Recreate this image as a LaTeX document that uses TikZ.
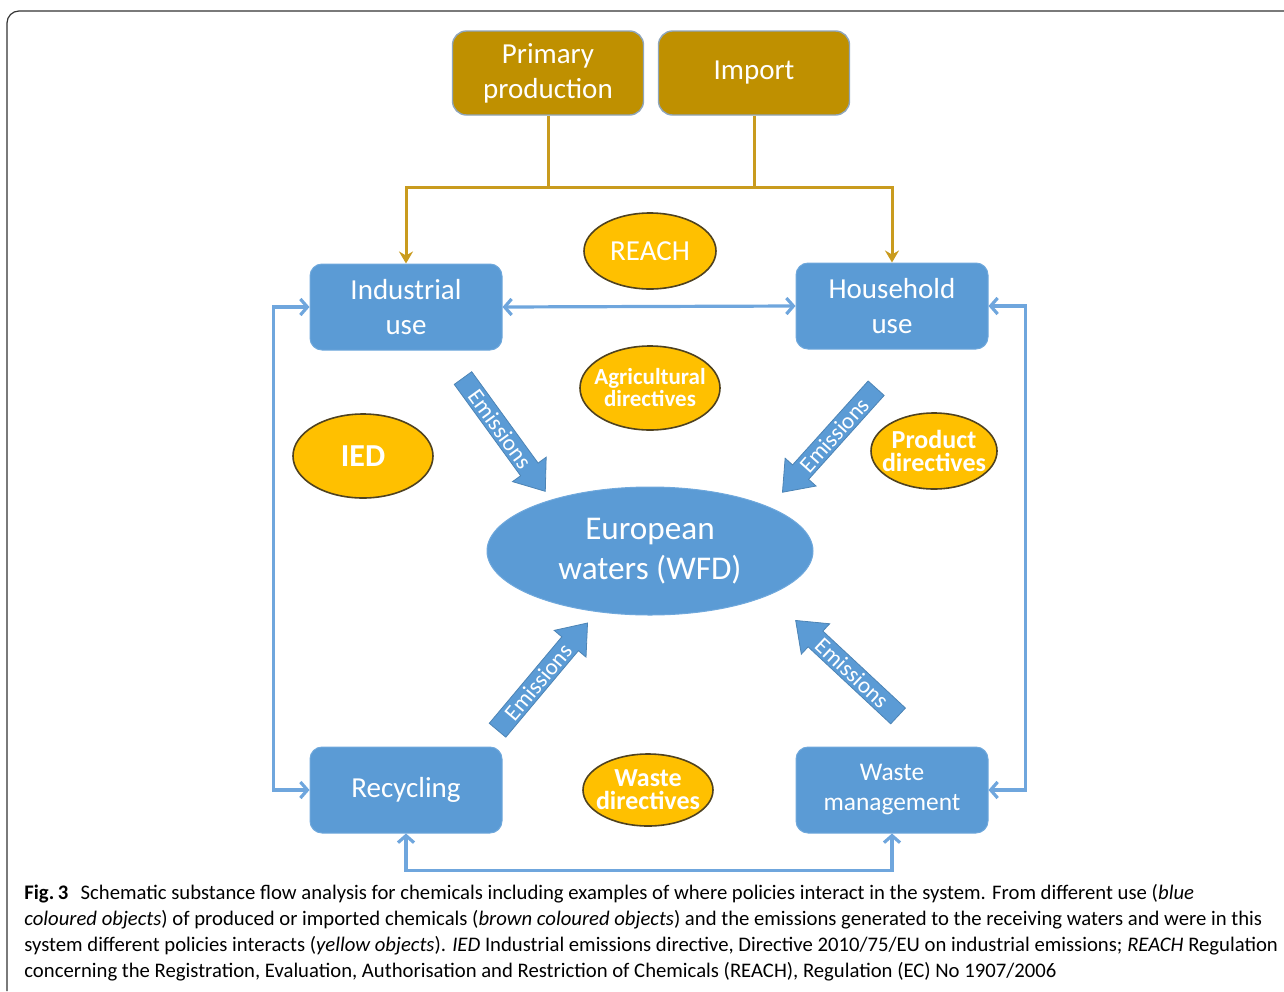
\documentclass[tikz,border=0pt]{standalone}
\usepackage{fontspec}
\setmainfont{Carlito}
\usetikzlibrary{shapes.geometric,shapes.arrows,arrows.meta}
\definecolor{srcfill}{HTML}{BF9000}
\definecolor{srcedge}{HTML}{8FA5BA}
\definecolor{supcol}{HTML}{C99B1E}
\definecolor{usefill}{HTML}{5B9BD5}
\definecolor{useedge}{HTML}{6FA8DC}
\definecolor{feedcol}{HTML}{6FA6DD}
\definecolor{polfill}{HTML}{FFC000}
\definecolor{poledge}{HTML}{4F4220}
\definecolor{framecol}{HTML}{333333}
\tikzset{
  srcbox/.style={draw=srcedge, line width=0.7pt, fill=srcfill, rounded corners=7pt,
    minimum width=95.5pt, minimum height=42pt, align=center, text=white,
    font=\fontsize{14.5}{17.5}\selectfont},
  usebox/.style={draw=useedge, line width=0.5pt, fill=usefill, rounded corners=6pt,
    minimum width=96pt, minimum height=43pt, align=center, text=white,
    font=\fontsize{14.5}{17.5}\selectfont},
  water/.style={ellipse, fill=usefill, draw=useedge, line width=0.5pt, inner sep=0pt,
    minimum width=163pt, minimum height=64pt, align=center, text=white,
    font=\fontsize{16.6}{20}\selectfont},
  policy/.style={ellipse, fill=polfill, draw=poledge, line width=0.8pt, inner sep=0pt},
  poltext/.style={align=center, text=white, inner sep=0pt},
  emis/.style={single arrow, fill=usefill, draw=usefill!85!black, line width=0.4pt,
    minimum height=70pt, single arrow head extend=5pt, single arrow tip angle=75,
    inner xsep=2pt, inner ysep=1.2pt, text=white, font=\fontsize{11.5}{12}\selectfont},
  supply/.style={draw=supcol, line width=1.5pt, -{Stealth[length=6pt, width=7pt, inset=2pt]}},
  supplyline/.style={draw=supcol, line width=1.5pt},
  feed/.style={draw=feedcol, line width=1.6pt, {Straight Barb[length=3.5pt, width=8pt]}-{Straight Barb[length=3.5pt, width=8pt]}}
}
\begin{document}
\begin{tikzpicture}[x=0.5pt, y=-0.5pt]
\useasboundingbox (0,0) rectangle (1284,991);
\draw[framecol, line width=0.6pt, rounded corners=6pt] (7,991) -- (7,11) -- (1284,11);

% sources
\node[srcbox] (prim) at (548,73) {Primary\\production};
\node[srcbox] (imp) at (754,73) {Import};

% uses
\node[usebox] (ind) at (406,307) {Industrial\\use};
\node[usebox] (hh) at (892,306) {Household\\use};
\node[usebox] (rec) at (406,790) {Recycling};
\node[usebox, font=\fontsize{12.7}{15}\selectfont] (wm) at (892,790) {Waste\\management};

% receiving waters
\node[water] (wfd) at (650,551) {European\\waters (WFD)};

% policies
\node[policy, minimum width=66pt, minimum height=38pt] (reach) at (650,251) {};
\node[poltext, font=\fontsize{14.5}{16}\selectfont] (reachtxt) at (reach) {REACH};
\node[policy, minimum width=70pt, minimum height=42pt] (agri) at (650,388) {};
\node[poltext, font=\bfseries\fontsize{11.5}{11}\selectfont] (agritxt) at (agri) {Agricultural\\directives};
\node[policy, minimum width=70pt, minimum height=42pt] (ied) at (363,456) {};
\node[poltext, font=\bfseries\fontsize{16}{18}\selectfont] (iedtxt) at (ied) {IED};
\node[policy, minimum width=63pt, minimum height=38pt] (prod) at (934,451) {};
\node[poltext, font=\bfseries\fontsize{13}{11.5}\selectfont] (prodtxt) at (prod) {Product\\directives};
\node[policy, minimum width=65pt, minimum height=36pt] (wdir) at (648,790) {};
\node[poltext, font=\bfseries\fontsize{13}{11.5}\selectfont] (wdirtxt) at (wdir) {Waste\\directives};

% emissions
\node[emis, rotate=-54] (emtl) at (500,429) {Emissions};
\node[emis, rotate=48, shape border rotate=180] (emtr) at (834,435) {Emissions};
\node[emis, rotate=50] (embl) at (538,682) {Emissions};
\node[emis, rotate=-43, shape border rotate=180] (embr) at (852,673) {Emissions};

% supply lines
\coordinate (bus) at (0,187);
\draw[supply] (prim.south) -- (prim.south |- bus) -| (ind.north);
\draw[supply] (imp.south) -- (imp.south |- bus) -| (hh.north);
\draw[supplyline] (prim.south |- bus) -- (imp.south |- bus);

% exchanges
\draw[feed] (ind.east) -- (hh.west);
\draw[feed] (ind.west) -- ++(-36,0) |- (rec.west);
\draw[feed] (hh.east) -- ++(37,0) |- (wm.east);
\draw[feed] (rec.south) -- ++(0,37) -| (wm.south);

% caption
\node[anchor=north west, inner sep=0pt, align=left, font=\fontsize{10.35}{13}\selectfont] (cap) at (24,884) {%
\textbf{Fig.\,3}\hspace{0.6em}Schematic substance flow analysis for chemicals including examples of where policies interact in the system. From different use (\textit{blue}\\
\textit{coloured objects}) of produced or imported chemicals (\textit{brown coloured objects}) and the emissions generated to the receiving waters and were in this\\
system different policies interacts (\textit{yellow objects}). \textit{IED} Industrial emissions directive, Directive 2010/75/EU on industrial emissions; \textit{REACH} Regulation\\
concerning the Registration, Evaluation, Authorisation and Restriction of Chemicals (REACH), Regulation (EC) No 1907/2006};
\end{tikzpicture}
\end{document}
